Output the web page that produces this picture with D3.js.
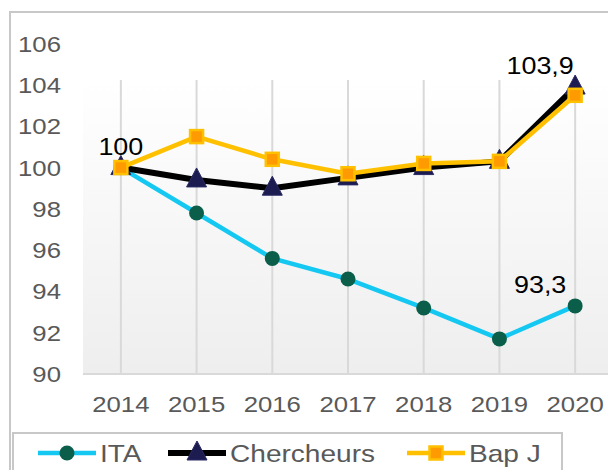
<!DOCTYPE html>
<html lang="fr">
<head>
<meta charset="UTF-8" />
<title>Indices ITA / Chercheurs / Bap J</title>
<script src="https://d3js.org/d3.v7.min.js"></script>
<style>
    body { margin: 0; background: #fff; }
    svg { display: block; font-family: "Liberation Sans", Arial, sans-serif; }
</style>
</head>
<body>
<svg id="chart" width="608" height="470"></svg>
<script>
    // données
    const annees = ["2014", "2015", "2016", "2017", "2018", "2019", "2020"];
    const ita = [100, 97.8, 95.6, 94.6, 93.2, 91.7, 93.3];
    const chercheurs = [100, 99.4, 99.0, 99.5, 100.0, 100.3, 103.9];
    const bapJ = [100, 101.5, 100.4, 99.7, 100.2, 100.3, 103.5];
    const yTicks = [90, 92, 94, 96, 98, 100, 102, 104, 106];
    const etiquettes = [
        { serie: "chercheurs", i: 0, texte: "100" },
        { serie: "chercheurs", i: 6, texte: "103,9" },
        { serie: "ita", i: 6, texte: "93,3" }
    ];

    const svg = d3.select("#chart");
    const stretch = 1.17; // le texte est un peu étiré horizontalement

    const x = d3.scalePoint().domain(annees).range([83, 613]).padding(0.5);
    const y = d3.scaleLinear().domain([90, 106]).range([374, 43.7]);

    // texte étiré autour de son point d'ancrage
    function txt(g, px, py, s, size, color, anchor) {
        return g.append("text")
            .attr("transform", `translate(${px},${py}) scale(${stretch},1)`)
            .attr("text-anchor", anchor || "middle")
            .attr("font-size", size)
            .attr("fill", color)
            .text(s);
    }

    // dégradé de la zone de tracé
    const defs = svg.append("defs");
    const grad = defs.append("linearGradient").attr("id", "fond")
        .attr("x1", 0).attr("y1", 0).attr("x2", 0).attr("y2", 1);
    grad.append("stop").attr("offset", "0%").attr("stop-color", "#ffffff");
    grad.append("stop").attr("offset", "100%").attr("stop-color", "#eeeeee");

    // cadre extérieur
    svg.append("rect")
        .attr("x", 10).attr("y", 12).attr("width", 620).attr("height", 480)
        .attr("fill", "#fff").attr("stroke", "#c8c8c8").attr("stroke-width", 2);

    const plotTop = 80, plotBottom = y(90);
    svg.append("rect")
        .attr("x", 83).attr("y", plotTop)
        .attr("width", 540).attr("height", plotBottom - plotTop)
        .attr("fill", "url(#fond)");

    // grille verticale
    svg.append("g").selectAll("line").data(annees).join("line")
        .attr("x1", d => x(d)).attr("x2", d => x(d))
        .attr("y1", plotTop).attr("y2", plotBottom)
        .attr("stroke", "#d9d9d9").attr("stroke-width", 2);

    // axe horizontal
    svg.append("line")
        .attr("x1", 83).attr("x2", 620)
        .attr("y1", plotBottom).attr("y2", plotBottom)
        .attr("stroke", "#d9d9d9").attr("stroke-width", 2);

    // libellés des axes
    const axes = svg.append("g");
    yTicks.forEach(t => txt(axes, 61, y(t) + 8, t, 22, "#595959", "end"));
    annees.forEach(a => txt(axes, x(a), 412, a, 22, "#595959", "middle"));

    const series = [
        { nom: "ITA", cle: "ita", valeurs: ita, couleur: "#14c8f2", largeur: 4.5, marque: "cercle" },
        { nom: "Chercheurs", cle: "chercheurs", valeurs: chercheurs, couleur: "#000000", largeur: 6, marque: "triangle" },
        { nom: "Bap J", cle: "bapJ", valeurs: bapJ, couleur: "#ffc000", largeur: 4.5, marque: "carre" }
    ];

    function marque(g, type, px, py) {
        if (type === "cercle") {
            g.append("circle").attr("cx", px).attr("cy", py).attr("r", 7.5)
                .attr("fill", "#0b5e4a");
        } else if (type === "triangle") {
            g.append("path")
                .attr("d", `M${px},${py - 12}L${px + 10},${py + 7}L${px - 10},${py + 7}Z`)
                .attr("fill", "#1c1c50").attr("stroke", "#2a2a66").attr("stroke-width", 1);
        } else {
            g.append("rect").attr("x", px - 6.5).attr("y", py - 6.5)
                .attr("width", 13).attr("height", 13)
                .attr("fill", "#ff9a00").attr("stroke", "#ffc000").attr("stroke-width", 2.5);
        }
    }

    const line = d3.line().x((d, i) => x(annees[i])).y(d => y(d));

    series.forEach(s => {
        const g = svg.append("g");
        g.append("path").datum(s.valeurs).attr("d", line)
            .attr("fill", "none").attr("stroke", s.couleur)
            .attr("stroke-width", s.largeur).attr("stroke-linejoin", "round");
        s.valeurs.forEach((v, i) => marque(g, s.marque, x(annees[i]), y(v)));
    });

    // étiquettes de données
    const lab = svg.append("g");
    const parCle = { ita: ita, chercheurs: chercheurs, bapJ: bapJ };
    etiquettes.forEach(e => {
        const v = parCle[e.serie][e.i];
        txt(lab, x(annees[e.i]) - 35 * (e.i === 6 ? 1 : 0), y(v) - 13, e.texte, 23, "#000", "middle");
    });

    // légende
    svg.append("rect")
        .attr("x", 13).attr("y", 433).attr("width", 549).attr("height", 60)
        .attr("fill", "#fff").attr("stroke", "#c8c8c8").attr("stroke-width", 2);
    const leg = svg.append("g");
    const legX = [38, 168, 407];
    series.forEach((s, i) => {
        const x0 = legX[i], ly = 453;
        leg.append("line").attr("x1", x0).attr("x2", x0 + 58)
            .attr("y1", ly).attr("y2", ly)
            .attr("stroke", s.couleur).attr("stroke-width", s.largeur);
        marque(leg, s.marque, x0 + 29, ly);
        txt(leg, x0 + 62, 462, s.nom, 24, "#595959", "start");
    });
</script>
</body>
</html>
